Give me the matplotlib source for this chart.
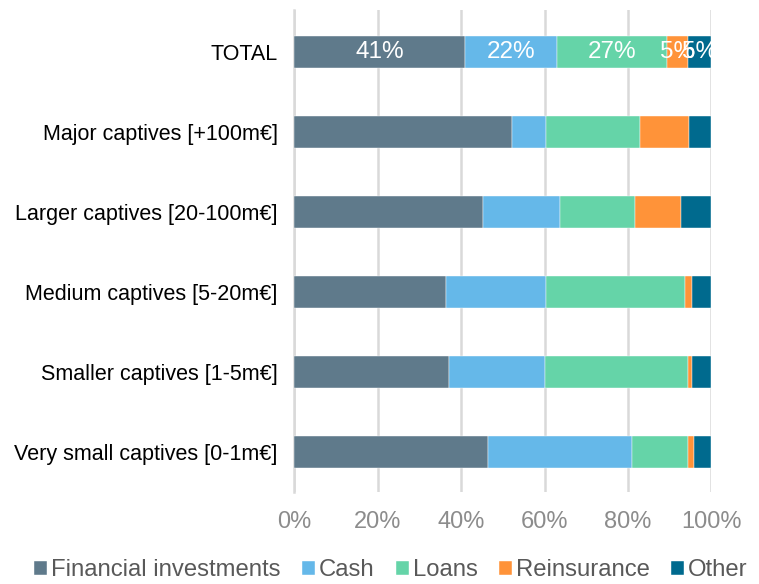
import numpy as np
import matplotlib
matplotlib.use('Agg')
import matplotlib.pyplot as plt
from matplotlib.ticker import PercentFormatter

plt.rcParams['font.family'] = ['Liberation Sans', 'DejaVu Sans']

# категории (сверху вниз)
categories = ['TOTAL', 'Major captives [+100m€]', 'Larger captives [20-100m€]',
              'Medium captives [5-20m€]', 'Smaller captives [1-5m€]',
              'Very small captives [0-1m€]']

series_names = ['Financial investments', 'Cash', 'Loans', 'Reinsurance', 'Other']
financial = [41.0, 52.2, 45.2, 36.3, 37.1, 46.5]
cash = [21.9, 8.2, 18.6, 24.1, 23.0, 34.4]
loans = [26.6, 22.4, 17.8, 33.4, 34.3, 13.5]
reinsurance = [5.0, 11.9, 11.2, 1.5, 1.0, 1.5]
other = [5.5, 5.3, 7.2, 4.7, 4.6, 4.1]
total_labels = ['41%', '22%', '27%', '5%', '5%']

colors = ['#5F7A8B', '#65B8E9', '#65D4A8', '#FF9339', '#006A8E']

fig = plt.figure(figsize=(7.59, 5.84), dpi=100)
ax = fig.add_axes([0.388, 0.158, 0.549, 0.825])

y = np.arange(len(categories))
left = np.zeros(len(categories))
for name, vals, c in zip(series_names, [financial, cash, loans, reinsurance, other], colors):
    vals = np.array(vals)
    ax.barh(y, vals, left=left, height=0.4, color=c, label=name,
            edgecolor='white', linewidth=0.3, zorder=3)
    left += vals

# подписи для TOTAL
left0 = 0
for vals, lab in zip([financial, cash, loans, reinsurance, other], total_labels):
    ax.text(left0 + vals[0] / 2, 0, lab, ha='center', va='center',
            color='white', fontsize=17.5, zorder=4)
    left0 += vals[0]

ax.set_ylim(5.5, -0.52)
ax.set_xlim(0, 100)
ax.set_xticks(range(0, 101, 20))
ax.xaxis.set_major_formatter(PercentFormatter(decimals=0))
ax.set_yticks(y)
ax.set_yticklabels(categories, fontsize=15.5, color='black')
ax.tick_params(axis='x', labelsize=17, colors='#8C8C8C', length=0, pad=14)
ax.tick_params(axis='y', length=0, pad=12)
ax.grid(axis='x', color='#D9D9D9', linewidth=1.8, zorder=0)
for s in ['top', 'right', 'bottom']:
    ax.spines[s].set_visible(False)
ax.spines['left'].set_color('#D9D9D9')
ax.spines['left'].set_linewidth(1.8)

fig.legend(loc='lower center', bbox_to_anchor=(0.515, -0.032), ncol=5, frameon=False,
           fontsize=17.2, labelcolor='#595959', handlelength=0.55, handleheight=0.55,
           handletextpad=0.15, columnspacing=0.9)

plt.savefig('out.png', dpi=100)
